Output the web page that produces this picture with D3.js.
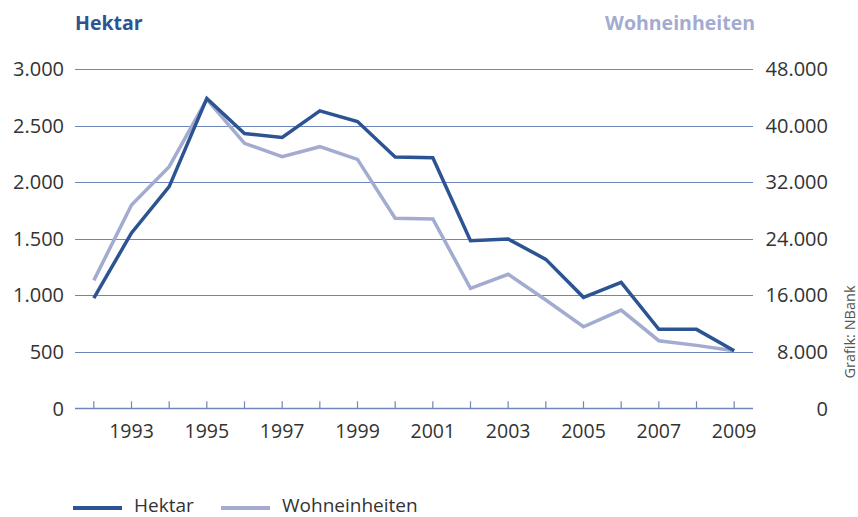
<!DOCTYPE html>
<html>
<head>
<meta charset="utf-8">
<script src="https://cdn.jsdelivr.net/npm/d3@7"></script>
<style>
  body { margin: 0; background: #fff; }
  svg text { font-family: "Open Sans", sans-serif; }
</style>
</head>
<body>
<div id="chart"></div>
<script>
const years = d3.range(1992, 2010);
const hektar = [975, 1550, 1960, 2740, 2430, 2395, 2630, 2535, 2222, 2216, 1482, 1497, 1317, 981, 1114, 698, 698, 509];
const wohneinheiten = [18100, 28760, 34180, 43700, 37490, 35600, 37010, 35220, 26880, 26780, 16980, 18960, 15320, 11540, 13900, 9560, 8900, 8150];
const leftTicks = [0, 500, 1000, 1500, 2000, 2500, 3000];
const rightTicks = [0, 8000, 16000, 24000, 32000, 40000, 48000];

const width = 858, height = 517;
const darkBlue = "#2d5492", lightBlue = "#a3abd0", gridColor = "#6f86bd", textColor = "#333";
const margin = { top: 69, right: 105, bottom: 109, left: 75 };

const svg = d3.select("#chart").append("svg")
    .attr("width", width)
    .attr("height", height);

const x = d3.scalePoint()
    .domain(years)
    .range([margin.left, width - margin.right])
    .padding(0.5);

const yL = d3.scaleLinear().domain([0, 3000]).range([height - margin.bottom + 0.3, margin.top]);
const yR = d3.scaleLinear().domain([0, 48000]).range([height - margin.bottom + 0.3, margin.top]);

const fmt = d => d3.format(",")(d).replace(/,/g, ".");

// gridlines
svg.append("g").selectAll("line")
    .data(leftTicks)
    .enter().append("line")
    .attr("x1", margin.left)
    .attr("x2", width - margin.right)
    .attr("y1", d => Math.round(yL(d)) + 0.5)
    .attr("y2", d => Math.round(yL(d)) + 0.5)
    .attr("stroke", gridColor)
    .attr("stroke-width", d => d === 0 ? 1.5 : 1.2);

// x ticks
svg.append("g").selectAll("line")
    .data(years)
    .enter().append("line")
    .attr("x1", d => x(d))
    .attr("x2", d => x(d))
    .attr("y1", yL(0) - 7)
    .attr("y2", yL(0))
    .attr("stroke", gridColor)
    .attr("stroke-width", 1.2);

svg.append("g").selectAll("text")
    .data(years.filter(d => d % 2 === 1))
    .enter().append("text")
    .attr("x", d => x(d))
    .attr("y", 438)
    .attr("text-anchor", "middle")
    .attr("font-size", "19.5px")
    .attr("fill", textColor)
    .text(d => d);

// left axis labels
svg.append("g").selectAll("text")
    .data(leftTicks)
    .enter().append("text")
    .attr("x", 64)
    .attr("y", d => yL(d))
    .attr("dy", "0.36em")
    .attr("text-anchor", "end")
    .attr("font-size", "20px")
    .attr("fill", textColor)
    .text(fmt);

// right axis labels
svg.append("g").selectAll("text")
    .data(rightTicks)
    .enter().append("text")
    .attr("x", 828)
    .attr("y", d => yR(d))
    .attr("dy", "0.36em")
    .attr("text-anchor", "end")
    .attr("font-size", "20px")
    .attr("fill", textColor)
    .text(fmt);

// axis titles
svg.append("text")
    .attr("x", 75)
    .attr("y", 30)
    .attr("font-size", "19.5px")
    .attr("font-weight", "bold")
    .attr("fill", darkBlue)
    .text("Hektar");

svg.append("text")
    .attr("x", 755)
    .attr("y", 30)
    .attr("text-anchor", "end")
    .attr("font-size", "19.5px")
    .attr("font-weight", "bold")
    .attr("fill", lightBlue)
    .text("Wohneinheiten");

// lines
const lineL = d3.line().x((d, i) => x(years[i])).y(d => yL(d));
const lineR = d3.line().x((d, i) => x(years[i])).y(d => yR(d));

svg.append("path")
    .datum(wohneinheiten)
    .attr("d", lineR)
    .attr("fill", "none")
    .attr("stroke", lightBlue)
    .attr("stroke-width", 3.5)
    .attr("stroke-linejoin", "miter");

svg.append("path")
    .datum(hektar)
    .attr("d", lineL)
    .attr("fill", "none")
    .attr("stroke", darkBlue)
    .attr("stroke-width", 3.5)
    .attr("stroke-linejoin", "miter");

// source note
svg.append("text")
    .attr("transform", "translate(855, 332) rotate(-90)")
    .attr("text-anchor", "middle")
    .attr("font-size", "14.5px")
    .attr("fill", "#555")
    .text("Grafik: NBank");

// legend
const legend = [
    { label: "Hektar", color: darkBlue, x: 73 },
    { label: "Wohneinheiten", color: lightBlue, x: 221 }
];
const lg = svg.append("g").selectAll("g")
    .data(legend)
    .enter().append("g")
    .attr("transform", d => `translate(${d.x}, 508)`);

lg.append("line")
    .attr("x1", 0)
    .attr("x2", 49)
    .attr("stroke", d => d.color)
    .attr("stroke-width", 4);

lg.append("text")
    .attr("x", 61)
    .attr("y", 4)
    .attr("font-size", "19px")
    .attr("fill", textColor)
    .text(d => d.label);
</script>
</body>
</html>
